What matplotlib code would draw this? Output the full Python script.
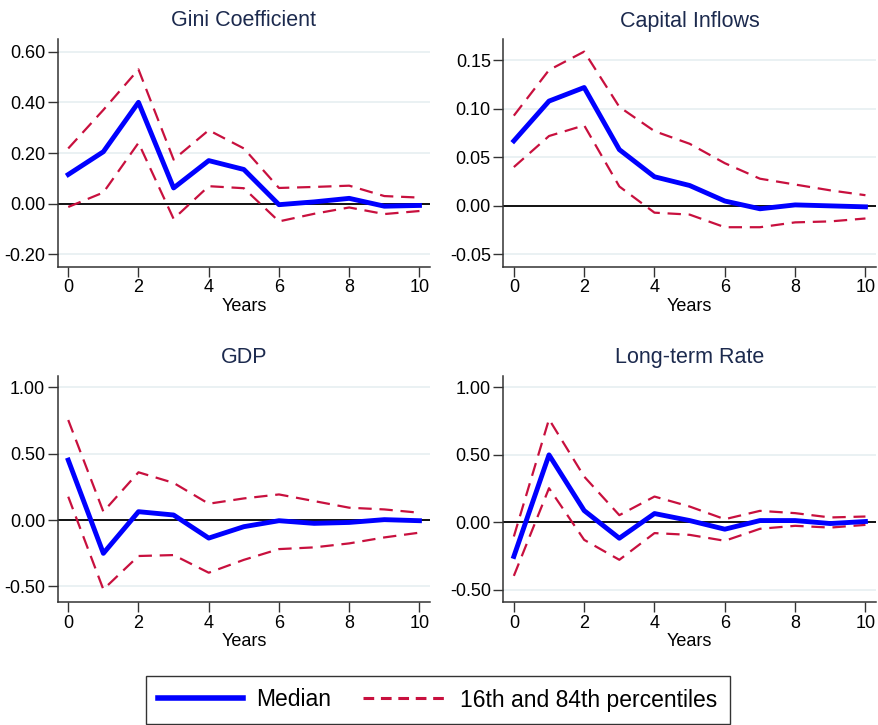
import matplotlib
matplotlib.use("Agg")
import matplotlib.pyplot as plt
from matplotlib.lines import Line2D

plt.rcParams['font.family'] = ['Liberation Sans', 'DejaVu Sans']
plt.rcParams['axes.unicode_minus'] = False

######
"""Horizon (years) and impulse responses read off the figure."""
years = [0, 1, 2, 3, 4, 5, 6, 7, 8, 9, 10]

gini_med = [0.115, 0.205, 0.400, 0.062, 0.170, 0.135, -0.004, 0.007, 0.021, -0.010, -0.007]
gini_hi = [0.218, 0.370, 0.530, 0.174, 0.290, 0.218, 0.062, 0.066, 0.071, 0.030, 0.024]
gini_lo = [-0.013, 0.044, 0.240, -0.060, 0.069, 0.061, -0.070, -0.040, -0.015, -0.041, -0.029]

cap_med = [0.067, 0.108, 0.122, 0.058, 0.030, 0.021, 0.005, -0.003, 0.001, 0.000, -0.001]
cap_hi = [0.093, 0.140, 0.159, 0.102, 0.077, 0.064, 0.044, 0.028, 0.022, 0.016, 0.011]
cap_lo = [0.040, 0.072, 0.083, 0.020, -0.007, -0.009, -0.022, -0.022, -0.017, -0.016, -0.013]

gdp_med = [0.452, -0.251, 0.063, 0.038, -0.136, -0.050, -0.005, -0.025, -0.018, 0.003, -0.005]
gdp_hi = [0.754, 0.063, 0.360, 0.280, 0.123, 0.163, 0.193, 0.143, 0.093, 0.080, 0.055]
gdp_lo = [0.176, -0.523, -0.271, -0.264, -0.397, -0.300, -0.219, -0.206, -0.176, -0.131, -0.095]

rate_med = [-0.254, 0.499, 0.086, -0.119, 0.064, 0.012, -0.052, 0.012, 0.012, -0.010, 0.005]
rate_hi = [-0.106, 0.763, 0.338, 0.052, 0.190, 0.116, 0.022, 0.084, 0.067, 0.035, 0.042]
rate_lo = [-0.398, 0.252, -0.131, -0.279, -0.081, -0.094, -0.138, -0.049, -0.027, -0.040, -0.020]

titles = ['Gini Coefficient', 'Capital Inflows', 'GDP', 'Long-term Rate']
yticks = [[-0.2, 0.0, 0.2, 0.4, 0.6],
          [-0.05, 0.0, 0.05, 0.10, 0.15],
          [-0.5, 0.0, 0.5, 1.0],
          [-0.5, 0.0, 0.5, 1.0]]
ylims = [(-0.25, 0.65), (-0.063, 0.172), (-0.62, 1.088), (-0.594, 1.086)]
#####
"""Axes boxes in pixels (left, top, right, bottom)."""
W, H = 879, 725
boxes = [(57.7, 39, 430, 267), (503.3, 39, 876, 267),
         (57.7, 375.7, 430, 602.3), (503.3, 375.7, 876, 602.3)]

blue = '#0000ff'
red = '#c8103e'
navy = '#1c2a4e'

fig = plt.figure(figsize=(W / 100, H / 100), dpi=100)

panels = [(gini_med, gini_hi, gini_lo), (cap_med, cap_hi, cap_lo),
          (gdp_med, gdp_hi, gdp_lo), (rate_med, rate_hi, rate_lo)]

for k, (med, hi, lo) in enumerate(panels):
    x0, y0, x1, y1 = boxes[k]
    ax = fig.add_axes([x0 / W, 1 - y1 / H, (x1 - x0) / W, (y1 - y0) / H])
    for t in yticks[k]:
        ax.axhline(t, color='#e6eff1', lw=1.2, zorder=0)
    ax.axhline(0, color='black', lw=1.3, zorder=1)
    ax.plot(years, hi, color=red, lw=1.6, dashes=(6, 3.5), zorder=2)
    ax.plot(years, lo, color=red, lw=1.6, dashes=(6, 3.5), zorder=2)
    ax.plot(years, med, color=blue, lw=3.5, zorder=3)
    ax.set_xlim(-0.3, 10.3)
    ax.set_ylim(*ylims[k])
    ax.set_xticks([0, 2, 4, 6, 8, 10])
    ax.set_yticks(yticks[k])
    ax.set_yticklabels(['%.2f' % v for v in yticks[k]])
    ax.tick_params(labelsize=13, length=7, width=1, color='#333333', pad=2)
    ax.set_xlabel('Years', fontsize=13, labelpad=1)
    ax.set_title(titles[k], fontsize=15.5, color=navy, pad=9)
    for s in ['top', 'right']:
        ax.spines[s].set_visible(False)
    for s in ['left', 'bottom']:
        ax.spines[s].set_color('#333333')
        ax.spines[s].set_linewidth(1.1)
#####
"""Shared legend under the panels."""
handles = [Line2D([], [], color=blue, lw=4),
           Line2D([], [], color=red, lw=2.2, dashes=(3.5, 2.2))]
leg = fig.legend(handles, ['Median', '16th and 84th percentiles'],
                 loc='center', bbox_to_anchor=(438 / W, 1 - 700 / H), ncol=2,
                 fontsize=16.5, frameon=True, fancybox=False, edgecolor='black',
                 handlelength=3.7, handletextpad=0.55, columnspacing=1.4,
                 borderpad=0.55, borderaxespad=0)
leg.get_frame().set_linewidth(1.0)

plt.savefig('out.png', dpi=100)
